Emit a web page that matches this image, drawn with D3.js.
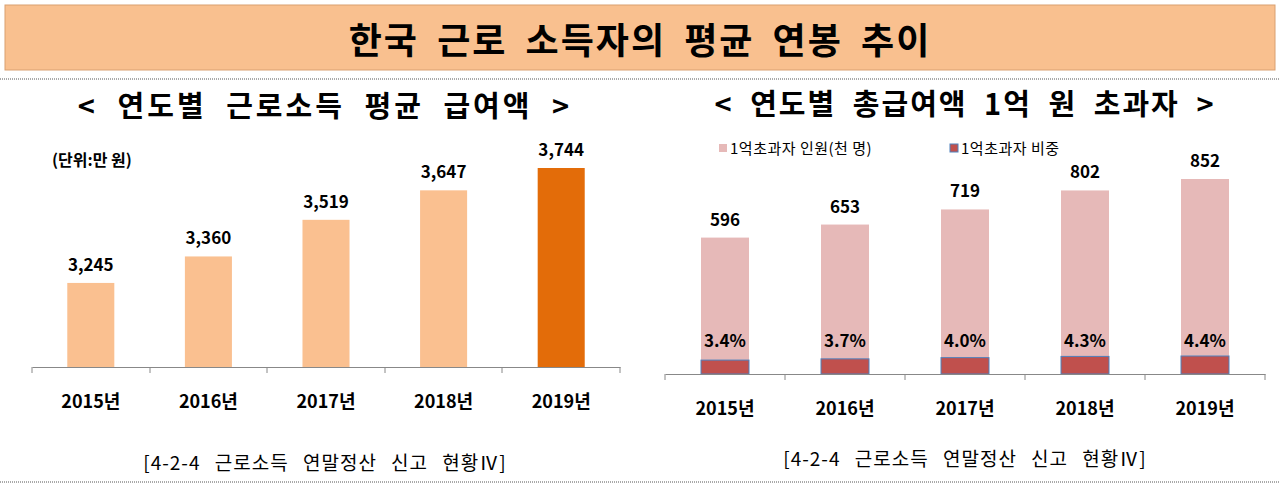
<!DOCTYPE html><html><head><meta charset="utf-8"><script src="https://cdn.jsdelivr.net/npm/d3@7"></script>
<style>body{margin:0;background:#fff}text{font-family:"Noto Sans CJK KR","Noto Sans",sans-serif}</style></head><body>
<svg id="c" width="1280" height="489"></svg>
<script>
const years=["2015년","2016년","2017년","2018년","2019년"];
const salary=[3245,3360,3519,3647,3744];
const people=[596,653,719,802,852];
const ratio=[3.4,3.7,4.0,4.3,4.4];
const svg=d3.select("#c");
svg.append("rect").attr("x",5).attr("y",5).attr("width",1270).attr("height",65).attr("fill","#F9C08F").attr("stroke","#d9a070");
svg.append("text").attr("x",640).attr("y",54).attr("text-anchor","middle").attr("font-size",36).attr("font-weight","bold").attr("letter-spacing",2).attr("word-spacing",8).text("한국 근로 소득자의 평균 연봉 추이");
[79,482].forEach(y=>svg.append("line").attr("x1",0).attr("x2",1280).attr("y1",y).attr("y2",y).attr("stroke","#555").attr("stroke-dasharray","1,1"));
svg.append("text").attr("x",325).attr("y",117).attr("text-anchor","middle").attr("font-size",29).attr("font-weight","bold").attr("letter-spacing",3).attr("word-spacing",10).text("< 연도별 근로소득 평균 급여액 >");
svg.append("text").attr("x",965).attr("y",115).attr("text-anchor","middle").attr("font-size",29).attr("font-weight","bold").attr("letter-spacing",2).attr("word-spacing",8).text("< 연도별 총급여액 1억 원 초과자 >");
svg.append("text").attr("x",52).attr("y",166).attr("font-size",16).attr("font-weight","bold").text("(단위:만 원)");
// left
const xL=d3.scaleBand().domain(years).range([32,620]).paddingInner(0.6).paddingOuter(0.3);
const yL=d3.scaleLinear().domain([2880,3744]).range([367,168]);
const gL=svg.append("g");
gL.selectAll("rect").data(salary).join("rect").attr("x",(d,i)=>xL(years[i])).attr("width",xL.bandwidth()).attr("y",d=>yL(d)).attr("height",d=>367-yL(d)).attr("fill",(d,i)=>i==4?"#E36C09":"#FAC090");
gL.selectAll("text.v").data(salary).join("text").attr("x",(d,i)=>xL(years[i])+xL.bandwidth()/2).attr("y",d=>yL(d)-12).attr("text-anchor","middle").attr("font-size",17).attr("font-weight","bold").text(d3.format(","));
const axL=svg.append("g").attr("transform","translate(0,367)").call(d3.axisBottom(xL).tickSize(0).tickPadding(28));
axL.select(".domain").attr("stroke","#888");axL.selectAll("text").attr("font-size",18).attr("font-weight","bold").attr("fill","#000");
[32,150,267,385,502,620].forEach(x=>svg.append("line").attr("x1",x).attr("x2",x).attr("y1",367).attr("y2",373).attr("stroke","#888"));
svg.append("text").attr("x",325).attr("y",470).attr("text-anchor","middle").attr("font-size",19).attr("letter-spacing",1).attr("word-spacing",9).text("[4-2-4 근로소득 연말정산 신고 현황Ⅳ]");
// right
const xR=d3.scaleBand().domain(years).range([665,1265]).paddingInner(0.6).paddingOuter(0.3);
const yR=d3.scaleLinear().domain([0,852]).range([374,179]);
const hR=d3.scaleLinear().domain([0,4.4]).range([0,18]);
const gR=svg.append("g");
gR.selectAll("rect.p").data(people).join("rect").attr("x",(d,i)=>xR(years[i])).attr("width",xR.bandwidth()).attr("y",d=>yR(d)).attr("height",d=>374-yR(d)).attr("fill","#E6B9B8");
gR.selectAll("rect.r").data(ratio).join("rect").attr("class","r").attr("x",(d,i)=>xR(years[i])).attr("width",xR.bandwidth()).attr("y",d=>374-hR(d)).attr("height",d=>hR(d)).attr("fill","#C0504D").attr("stroke","#4F81BD").attr("stroke-width",1);
gR.selectAll("text.v").data(people).join("text").attr("x",(d,i)=>xR(years[i])+xR.bandwidth()/2).attr("y",d=>yR(d)-12).attr("text-anchor","middle").attr("font-size",17).attr("font-weight","bold").text(d=>d);
gR.selectAll("text.r").data(ratio).join("text").attr("x",(d,i)=>xR(years[i])+xR.bandwidth()/2).attr("y",347).attr("text-anchor","middle").attr("font-size",17).attr("font-weight","bold").text(d=>d.toFixed(1)+"%");
const axR=svg.append("g").attr("transform","translate(0,374)").call(d3.axisBottom(xR).tickSize(0).tickPadding(28));
axR.select(".domain").attr("stroke","#888");axR.selectAll("text").attr("font-size",18).attr("font-weight","bold").attr("fill","#000");
[665,785,905,1025,1145,1265].forEach(x=>svg.append("line").attr("x1",x).attr("x2",x).attr("y1",374).attr("y2",380).attr("stroke","#888"));
svg.append("text").attr("x",965).attr("y",466).attr("text-anchor","middle").attr("font-size",19).attr("letter-spacing",1).attr("word-spacing",9).text("[4-2-4 근로소득 연말정산 신고 현황Ⅳ]");
// legend
svg.append("rect").attr("x",719).attr("y",144).attr("width",8).attr("height",8).attr("fill","#E6B9B8");
svg.append("text").attr("x",730).attr("y",154).attr("font-size",15).attr("letter-spacing",0.5).text("1억초과자 인원(천 명)");
svg.append("rect").attr("x",950).attr("y",144).attr("width",8).attr("height",8).attr("fill","#C0504D").attr("stroke","#4F81BD");
svg.append("text").attr("x",961).attr("y",154).attr("font-size",15).attr("letter-spacing",0.5).text("1억초과자 비중");
</script></body></html>
